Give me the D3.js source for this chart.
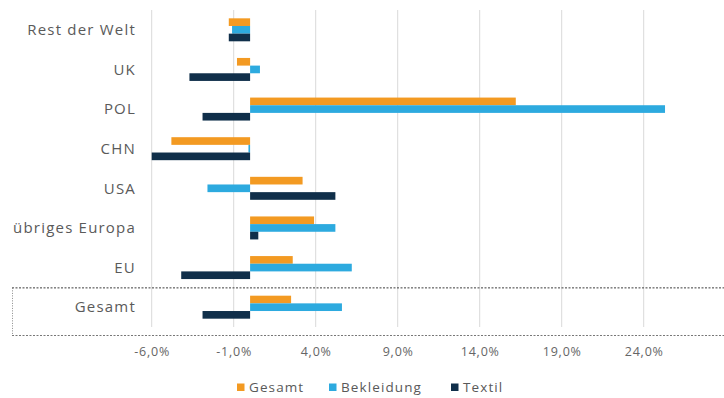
<!DOCTYPE html>
<html>
<head>
<meta charset="utf-8">
<script src="https://cdn.jsdelivr.net/npm/d3@7"></script>
<style>
  html, body { margin: 0; padding: 0; background: #fff; }
  svg { display: block; }
  text { font-family: "Open Sans", Lato, sans-serif; }
</style>
</head>
<body>
<svg id="chart" width="724" height="398"></svg>
<script>
// Categories, top to bottom
const categories = ["Rest der Welt", "UK", "POL", "CHN", "USA", "übriges Europa", "EU", "Gesamt"];
// Series names (legend order)
const seriesNames = ["Gesamt", "Bekleidung", "Textil"];
// Change in percent per category
const gesamtValues     = [-1.3, -0.8, 16.2, -4.8, 3.2, 3.9, 2.6, 2.5];
const bekleidungValues = [-1.1,  0.6, 25.3, -0.1, -2.6, 5.2, 6.2, 5.6];
const textilValues     = [-1.3, -3.7, -2.9, -6.0, 5.2, 0.5, -4.2, -2.9];
// Axis ticks (percent)
const tickValues = [-6, -1, 4, 9, 14, 19, 24];

const colors = ["#F39A22", "#2DAADF", "#102F4A"];
const seriesValues = [gesamtValues, bekleidungValues, textilValues];

const svg = d3.select("#chart");

const x = d3.scaleLinear().domain([-6, 29]).range([151.7, 725.7]);
const y = d3.scaleBand().domain(categories).range([10, 327]).paddingInner(0.42).paddingOuter(0.21);
const ySub = d3.scaleBand().domain(seriesNames).range([0, y.bandwidth()]);

const locale = d3.formatLocale({ decimal: ",", thousands: ".", grouping: [3], currency: ["", "€"], minus: "-" });
const fmt = v => locale.format(".1f")(v) + "%";

// Vertical gridlines
svg.append("g")
  .selectAll("line")
  .data(tickValues)
  .join("line")
  .attr("x1", d => x(d)).attr("x2", d => x(d))
  .attr("y1", 10).attr("y2", 327)
  .attr("stroke", "#d9d9d9")
  .attr("stroke-width", 1);

// Highlight frame around the total row
const frameTop = y("Gesamt") - y.step() * 0.21 + 0.5;
const frameBottom = 335.5;
const frame = svg.append("g").attr("stroke", "#3d3d3d").attr("stroke-width", 1).attr("fill", "none");
frame.append("line").attr("x1", 12).attr("x2", 724).attr("y1", frameTop).attr("y2", frameTop).attr("stroke-dasharray", "2,1.5");
frame.append("line").attr("x1", 12).attr("x2", 724).attr("y1", frameBottom).attr("y2", frameBottom).attr("stroke-dasharray", "2,1.5").attr("stroke", "#777");
frame.append("line").attr("x1", 12.5).attr("x2", 12.5).attr("y1", frameTop).attr("y2", frameBottom).attr("stroke-dasharray", "1,1.5").attr("stroke", "#888");

// Bars
const groups = svg.append("g")
  .selectAll("g")
  .data(categories)
  .join("g")
  .attr("transform", c => `translate(0,${y(c)})`);

groups.selectAll("rect")
  .data((c, i) => seriesNames.map((s, j) => ({ series: s, value: seriesValues[j][i], color: colors[j] })))
  .join("rect")
  .attr("x", d => x(Math.min(0, d.value)))
  .attr("width", d => Math.abs(x(d.value) - x(0)))
  .attr("y", d => ySub(d.series))
  .attr("height", ySub.bandwidth())
  .attr("fill", d => d.color);

// Category labels
svg.append("g")
  .selectAll("text")
  .data(categories)
  .join("text")
  .attr("x", 136)
  .attr("y", c => y(c) + y.bandwidth() / 2)
  .attr("dy", "0.35em")
  .attr("text-anchor", "end")
  .attr("font-size", 15)
  .attr("letter-spacing", 1.2)
  .attr("fill", "#5a5a5a")
  .text(c => c);

// X axis labels
const xAxis = d3.axisBottom(x).tickValues(tickValues).tickFormat(fmt).tickSize(0).tickPadding(0);
const axisG = svg.append("g").attr("transform", "translate(0,347)").call(xAxis);
axisG.select(".domain").remove();
axisG.selectAll("text")
  .attr("font-size", 12.5)
  .attr("letter-spacing", 0.8)
  .attr("fill", "#666")
  .attr("font-family", "'Open Sans', Lato, sans-serif");

// Legend
const legendX = [237, 329, 451];
const legend = svg.append("g");
seriesNames.forEach((s, i) => {
  legend.append("rect")
    .attr("x", legendX[i]).attr("y", 383.5)
    .attr("width", 7.5).attr("height", 7.5)
    .attr("fill", colors[i]);
  legend.append("text")
    .attr("x", legendX[i] + 12).attr("y", 387)
    .attr("dy", "0.35em")
    .attr("font-size", 13.5)
    .attr("letter-spacing", 1.1)
    .attr("fill", "#595959")
    .text(s);
});
</script>
</body>
</html>
